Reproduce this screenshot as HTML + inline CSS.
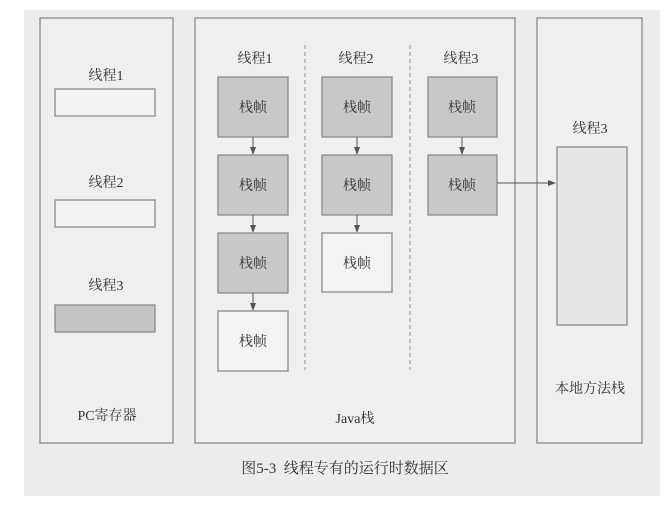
<!DOCTYPE html>
<html><head><meta charset="utf-8"><style>
body{margin:0;background:#fff;}
</style></head><body>
<svg width="669" height="502" xmlns="http://www.w3.org/2000/svg" font-family="'Liberation Serif','Noto Serif CJK SC',serif" font-size="14" fill="#333">
<rect x="24" y="10" width="636" height="486" fill="#ececec"/>
<defs><marker id="a" markerWidth="8" markerHeight="8" refX="7" refY="4" orient="auto"><path d="M0,1 L8,4 L0,7z" fill="#555"/></marker></defs>
<g fill="#efefef" stroke="#8a8a8a" stroke-width="1.3">
<rect x="40" y="18" width="133" height="425"/>
<rect x="195" y="18" width="320" height="425"/>
<rect x="537" y="18" width="105" height="425"/>
<rect x="55" y="89" width="100" height="27" fill="#f2f2f2"/>
<rect x="55" y="200" width="100" height="27" fill="#f2f2f2"/>
<rect x="55" y="305" width="100" height="27" fill="#c4c4c4"/>
<g fill="#c8c8c8">
<rect x="218" y="77" width="70" height="60"/><rect x="218" y="155" width="70" height="60"/><rect x="218" y="233" width="70" height="60"/>
<rect x="322" y="77" width="70" height="60"/><rect x="322" y="155" width="70" height="60"/>
<rect x="428" y="77" width="69" height="60"/><rect x="428" y="155" width="69" height="60"/>
</g>
<rect x="218" y="311" width="70" height="60" fill="#f3f3f3"/>
<rect x="322" y="233" width="70" height="59" fill="#f3f3f3"/>
<rect x="557" y="147" width="70" height="178" fill="#e6e6e6"/>
</g>
<g stroke="#999" stroke-dasharray="4,3"><line x1="305" y1="45" x2="305" y2="370"/><line x1="410" y1="45" x2="410" y2="370"/></g>
<g stroke="#555" marker-end="url(#a)">
<line x1="253" y1="137" x2="253" y2="154"/><line x1="253" y1="215" x2="253" y2="232"/><line x1="253" y1="293" x2="253" y2="310"/>
<line x1="357" y1="137" x2="357" y2="154"/><line x1="357" y1="215" x2="357" y2="232"/>
<line x1="462" y1="137" x2="462" y2="154"/><line x1="497" y1="183" x2="555" y2="183"/>
</g>
<g text-anchor="middle">
<text x="106" y="80">线程1</text><text x="106" y="187">线程2</text><text x="106" y="290">线程3</text>
<text x="107" y="420">PC寄存器</text>
<text x="255" y="63">线程1</text><text x="356" y="63">线程2</text><text x="461" y="63">线程3</text>
<text x="253" y="112">栈帧</text><text x="253" y="190">栈帧</text><text x="253" y="268">栈帧</text><text x="253" y="346">栈帧</text>
<text x="357" y="112">栈帧</text><text x="357" y="190">栈帧</text><text x="357" y="268">栈帧</text>
<text x="462" y="112">栈帧</text><text x="462" y="190">栈帧</text>
<text x="590" y="133">线程3</text>
<text x="590" y="393">本地方法栈</text>
<text x="355" y="423">Java栈</text>
<text x="345" y="473" font-size="15">图5-3&#160;&#160;线程专有的运行时数据区</text>
</g>
</svg>
</body></html>
